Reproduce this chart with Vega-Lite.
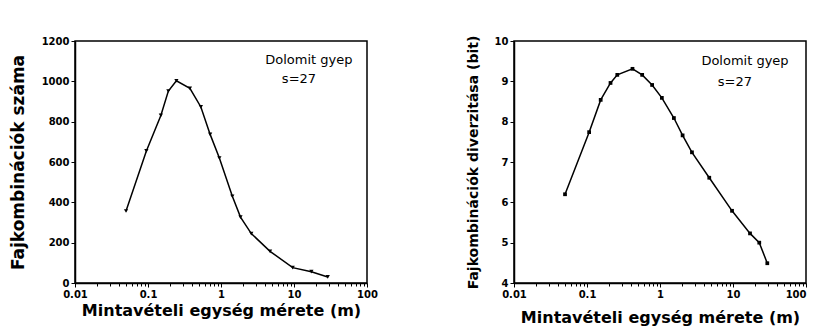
{
  "$schema": "https://vega.github.io/schema/vega-lite/v6.json",
  "padding": {"left": 8, "top": 34, "right": 5, "bottom": 5},
  "background": "white",
  "datasets": {
    "count": [
      {"m": 0.05, "v": 357},
      {"m": 0.095, "v": 655},
      {"m": 0.15, "v": 831},
      {"m": 0.19, "v": 952},
      {"m": 0.245, "v": 1003},
      {"m": 0.375, "v": 965},
      {"m": 0.53, "v": 873},
      {"m": 0.71, "v": 737},
      {"m": 0.95, "v": 620},
      {"m": 1.43, "v": 430},
      {"m": 1.85, "v": 327},
      {"m": 2.6, "v": 245},
      {"m": 4.7, "v": 157},
      {"m": 9.6, "v": 76},
      {"m": 17.3, "v": 56},
      {"m": 29, "v": 30}
    ],
    "div": [
      {"m": 0.05, "v": 6.2},
      {"m": 0.107, "v": 7.74},
      {"m": 0.154, "v": 8.54},
      {"m": 0.21, "v": 8.96},
      {"m": 0.26, "v": 9.16},
      {"m": 0.42, "v": 9.31},
      {"m": 0.57, "v": 9.16},
      {"m": 0.78, "v": 8.91},
      {"m": 1.06, "v": 8.59},
      {"m": 1.55, "v": 8.09},
      {"m": 2.04, "v": 7.66},
      {"m": 2.74, "v": 7.24},
      {"m": 4.73, "v": 6.61},
      {"m": 9.7, "v": 5.79},
      {"m": 17.1, "v": 5.23},
      {"m": 22.9, "v": 5.0},
      {"m": 29.5, "v": 4.49}
    ],
    "ann1": [
      {"m": 16, "v": 1106, "t": "Dolomit gyep"},
      {"m": 11.7, "v": 1012, "t": "s=27"}
    ],
    "ann2": [
      {"m": 14.6, "v": 9.51, "t": "Dolomit gyep"},
      {"m": 10.6, "v": 8.99, "t": "s=27"}
    ]
  },
  "spacing": 86,
  "hconcat": [
    {
      "width": 292,
      "height": 242,
      "resolve": {"axis": {"x": "independent"}},
      "layer": [
        {
          "data": {"name": "count"},
          "mark": {"type": "line", "color": "black", "strokeWidth": 1.5},
          "encoding": {
            "x": {"field": "m", "type": "quantitative",
              "scale": {"type": "log", "domain": [0.01, 100], "nice": false},
              "axis": {"title": "Mintavételi egység mérete (m)", "values": [0.01, 0.1, 1, 10, 100], "labelExpr": "datum.value < 0.05 ? '0.01' : datum.value < 0.5 ? '0.1' : format(datum.value, 'd')"}},
            "y": {"field": "v", "type": "quantitative",
              "scale": {"domain": [0, 1200], "nice": false},
              "axis": {"title": "Fajkombinációk száma", "titleFontSize": 17, "format": "d", "values": [0, 200, 400, 600, 800, 1000, 1200]}}
          }
        },
        {
          "data": {"name": "count"},
          "mark": {"type": "point", "shape": "triangle-down", "filled": true, "color": "black", "size": 18, "opacity": 1},
          "encoding": {
            "x": {"field": "m", "type": "quantitative",
              "axis": {"orient": "bottom", "title": null, "labels": false, "domain": false, "tickSize": 3, "values": [0.02, 0.03, 0.04, 0.05, 0.06, 0.07, 0.08, 0.09, 0.2, 0.3, 0.4, 0.5, 0.6, 0.7, 0.8, 0.9, 2, 3, 4, 5, 6, 7, 8, 9, 20, 30, 40, 50, 60, 70, 80, 90]}},
            "y": {"field": "v", "type": "quantitative"}
          }
        },
        {
          "data": {"name": "ann1"},
          "mark": {"type": "text", "font": "DejaVu Sans", "fontSize": 13, "color": "black"},
          "encoding": {
            "x": {"field": "m", "type": "quantitative", "axis": null},
            "y": {"field": "v", "type": "quantitative"},
            "text": {"field": "t"}
          }
        }
      ]
    },
    {
      "width": 292,
      "height": 242,
      "resolve": {"axis": {"x": "independent"}},
      "layer": [
        {
          "data": {"name": "div"},
          "mark": {"type": "line", "color": "black", "strokeWidth": 1.5},
          "encoding": {
            "x": {"field": "m", "type": "quantitative",
              "scale": {"type": "log", "domain": [0.01, 100], "nice": false},
              "axis": {"title": "Mintavételi egység mérete (m)", "titlePadding": 10, "values": [0.01, 0.1, 1, 10, 100],
                "labelAlign": {"condition": {"test": "datum.value > 50", "value": "right"}, "value": "center"},
                "labelExpr": "datum.value < 0.05 ? '0.01' : datum.value < 0.5 ? '0.1' : format(datum.value, 'd')"}},
            "y": {"field": "v", "type": "quantitative",
              "scale": {"domain": [4, 10], "nice": false},
              "axis": {"title": "Fajkombinációk diverzitása (bit)", "titleFontSize": 14, "values": [4, 5, 6, 7, 8, 9, 10]}}
          }
        },
        {
          "data": {"name": "div"},
          "mark": {"type": "point", "shape": "square", "filled": true, "color": "black", "size": 14, "opacity": 1},
          "encoding": {
            "x": {"field": "m", "type": "quantitative",
              "axis": {"orient": "bottom", "title": null, "labels": false, "domain": false, "tickSize": 3, "values": [0.02, 0.03, 0.04, 0.05, 0.06, 0.07, 0.08, 0.09, 0.2, 0.3, 0.4, 0.5, 0.6, 0.7, 0.8, 0.9, 2, 3, 4, 5, 6, 7, 8, 9, 20, 30, 40, 50, 60, 70, 80, 90]}},
            "y": {"field": "v", "type": "quantitative"}
          }
        },
        {
          "data": {"name": "ann2"},
          "mark": {"type": "text", "font": "DejaVu Sans", "fontSize": 13, "color": "black"},
          "encoding": {
            "x": {"field": "m", "type": "quantitative", "axis": null},
            "y": {"field": "v", "type": "quantitative"},
            "text": {"field": "t"}
          }
        }
      ]
    }
  ],
  "config": {
    "view": {"stroke": "black", "strokeWidth": 1.5},
    "axis": {
      "grid": false,
      "domainColor": "black",
      "domainWidth": 1.5,
      "tickColor": "black",
      "tickSize": 4,
      "labelColor": "black",
      "labelFont": "DejaVu Sans",
      "labelFontSize": 10,
      "labelFontWeight": "bold",
      "labelPadding": 2,
      "labelFlush": false,
      "titleColor": "black",
      "titleFont": "DejaVu Sans",
      "titleFontSize": 16,
      "titleFontWeight": "bold"
    },
    "axisY": {"titlePadding": 14},
    "axisX": {"titlePadding": 3}
  }
}
